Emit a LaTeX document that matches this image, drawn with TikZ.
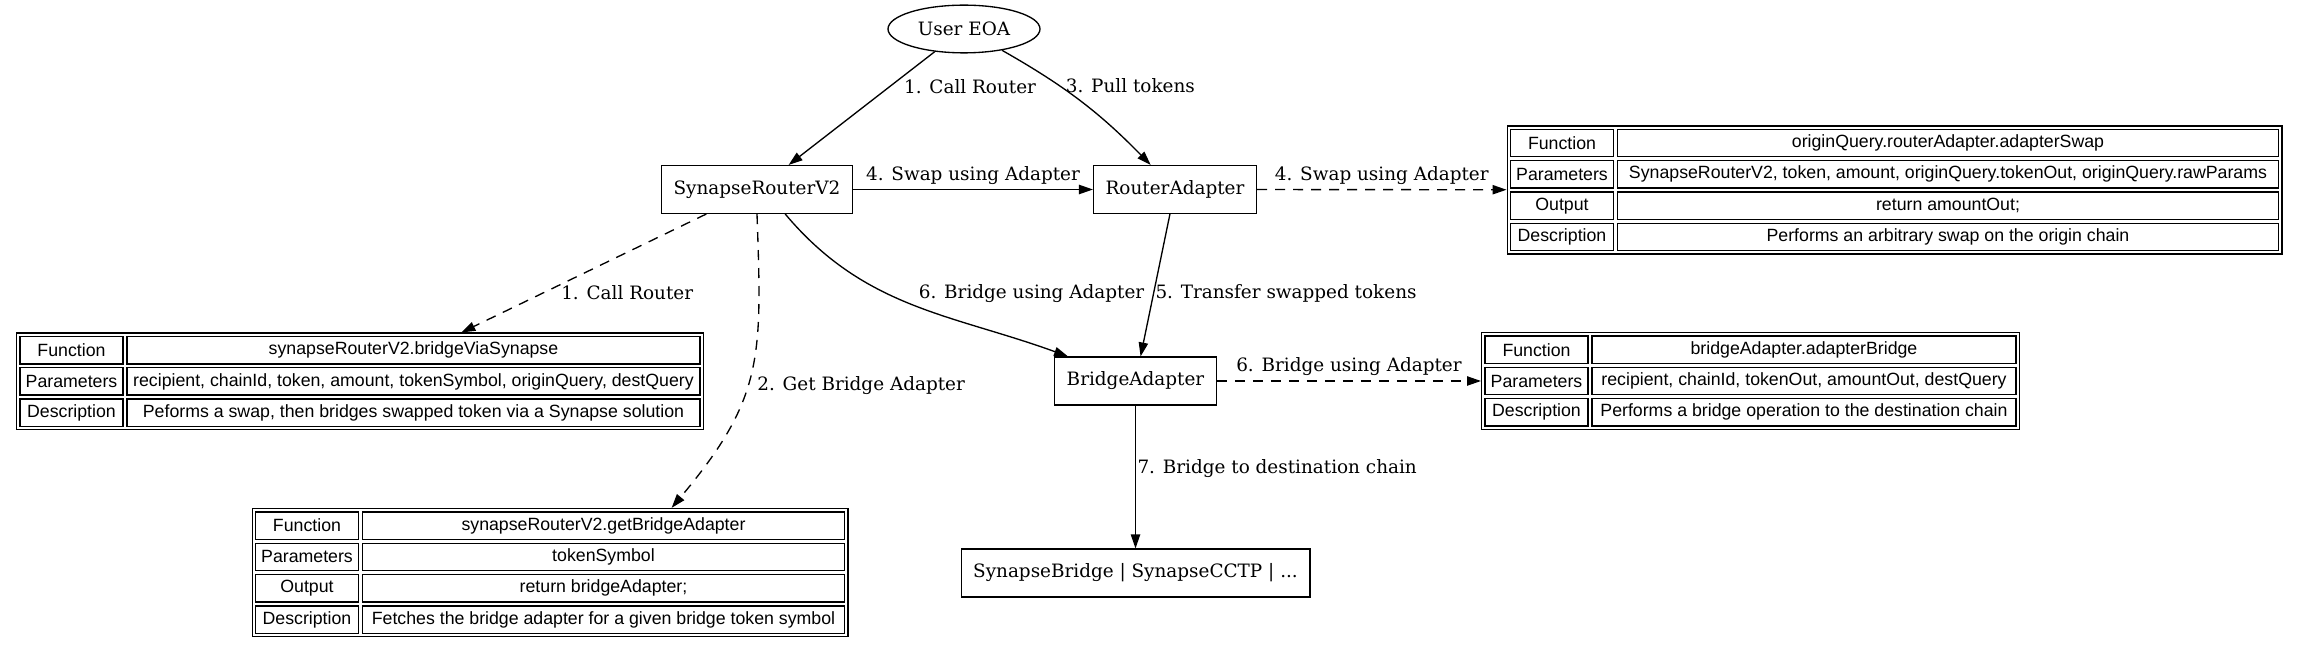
\documentclass[tikz,border=0pt]{standalone}
\usepackage{fontspec}
\setmainfont{DejaVu Serif}
\newfontfamily\tabfont{Liberation Sans}
\usetikzlibrary{arrows.meta}
\usetikzlibrary{matrix,shapes.geometric}

\begin{document}
\begin{tikzpicture}[x=0.75pt, y=-0.75pt,
  every node/.style={font=\fontsize{13.8}{16}\selectfont},
  contract/.style={draw, line width=1pt, minimum height=35.8pt, inner xsep=9pt},
  account/.style={draw, ellipse, line width=1pt, minimum width=114pt, minimum height=35.8pt, inner sep=0pt},
  calltab/.style={matrix of nodes, draw, line width=1pt, inner sep=2pt, column sep=2pt, row sep=2pt,
    nodes={draw, line width=1pt, anchor=center, minimum height=20.5pt, inner xsep=1pt, inner ysep=0pt,
      font=\tabfont\fontsize{13.3}{15}\selectfont},
    column 1/.style={nodes={minimum width=77.25pt}}},
  call/.style={line width=1pt, ->, >={Triangle[length=10.5pt, width=7pt]}},
  lookup/.style={call, dash pattern=on 7.5pt off 6pt},
  lbl/.style={inner sep=1pt}]
\useasboundingbox (0,0) rectangle (2299,648);

% contracts
\node[account] (eoa) at (964,29) {User EOA};
\node[contract] (router) at (757,189.5) {SynapseRouterV2};
\node[contract] (radapter) at (1175,189.5) {RouterAdapter};
\node[contract] (badapter) at (1135.5,381) {BridgeAdapter};
\node[contract] (bridges) at (1135.5,573) {SynapseBridge | SynapseCCTP | ...};

% function tables
\matrix (tabSwap) [calltab, column 2/.style={nodes={minimum width=495.75pt}}] at (1894.5,190) {
  Function & originQuery.routerAdapter.adapterSwap \\
  Parameters & SynapseRouterV2, token, amount, originQuery.tokenOut, originQuery.rawParams \\
  Output & {return amountOut;} \\
  Description & Performs an arbitrary swap on the origin chain \\
};
\matrix (tabVia) [calltab, column 2/.style={nodes={minimum width=429.75pt}}] at (360,381.5) {
  Function & synapseRouterV2.bridgeViaSynapse \\
  Parameters & recipient, chainId, token, amount, tokenSymbol, originQuery, destQuery \\
  Description & Peforms a swap, then bridges swapped token via a Synapse solution \\
};
\matrix (tabGet) [calltab, column 2/.style={nodes={minimum width=361.5pt}}] at (550,572.5) {
  Function & synapseRouterV2.getBridgeAdapter \\
  Parameters & tokenSymbol \\
  Output & {return bridgeAdapter;} \\
  Description & Fetches the bridge adapter for a given bridge token symbol \\
};
\matrix (tabBridge) [calltab, column 2/.style={nodes={minimum width=318pt}}] at (1750.5,381) {
  Function & bridgeAdapter.adapterBridge \\
  Parameters & recipient, chainId, tokenOut, amountOut, destQuery \\
  Description & Performs a bridge operation to the destination chain \\
};

% calls
\draw[call] (eoa) -- node[lbl, pos=.31, anchor=west, xshift=9.5pt] {1. Call Router} (router);
\draw[call] (eoa) to[bend left=8] node[lbl, pos=.34, anchor=west, xshift=4pt] {3. Pull tokens} (radapter);
\draw[call] (router) -- node[lbl, above=2.5pt] {4. Swap using Adapter} (radapter);
\draw[lookup] (radapter) -- node[lbl, above=2.5pt] {4. Swap using Adapter} (tabSwap);
\draw[lookup] (router) -- node[lbl, pos=.66, anchor=west, xshift=11pt] {1. Call Router} (tabVia);
\draw[lookup] (router.south) to[out=-88, in=50, looseness=1.2] node[lbl, pos=.55, anchor=west, xshift=6pt] {2. Get Bridge Adapter} (tabGet.28);
\draw[call] (router.-41.5) to[out=-50, in=160] node[lbl, pos=.5, anchor=south west, xshift=3pt] {6. Bridge using Adapter} (badapter.160);
\draw[call] (radapter) -- node[lbl, pos=.56, anchor=west] {5. Transfer swapped tokens} (badapter);
\draw[lookup] (badapter) -- node[lbl, above=2.5pt] {6. Bridge using Adapter} (tabBridge);
\draw[call] (badapter) -- node[lbl, pos=.44, anchor=west] {7. Bridge to destination chain} (bridges);
\end{tikzpicture}
\end{document}
